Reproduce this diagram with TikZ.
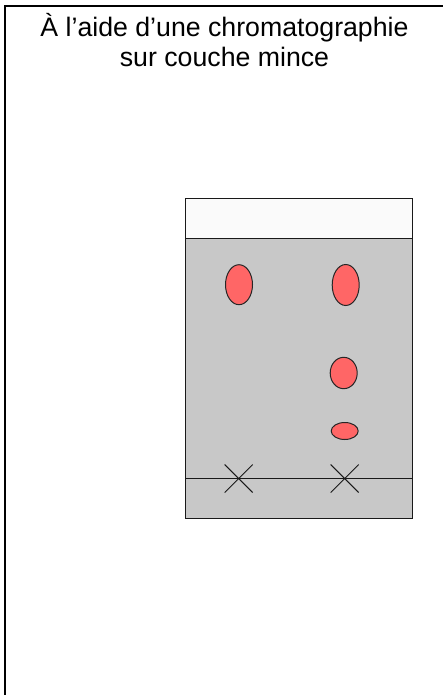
\documentclass[tikz,border=0pt]{standalone}
\usepackage{fontspec}
\setmainfont{Liberation Sans}
\usetikzlibrary{calc,shapes.geometric}
\definecolor{platefill}{HTML}{C8C8C8}
\definecolor{frontfill}{HTML}{FAFAFA}
\definecolor{spotfill}{HTML}{FF6666}
\tikzset{
    spot/.style={draw=black!85, fill=spotfill, line width=1pt},
    plateline/.style={draw=black!90, line width=1pt}
}

\begin{document}
\begin{tikzpicture}[x=1pt, y=-1pt]

% Page size
\useasboundingbox (0,0) rectangle (443,695);

% Parameters (for clarity)
\def\xL{185.5}    % plate left
\def\xR{412.5}    % plate right
\def\yT{198.5}    % plate top
\def\yB{518.5}    % plate bottom
\def\yF{238.5}    % solvent front
\def\yD{478.5}    % deposit line

% Frame (top and left only)
\draw[line width=2.2pt] (5,695) -- (5,6) -- (443,6);

% Title
\node[align=center, font=\fontsize{26.7}{30}\selectfont, anchor=base] (title) at (224.5,66.5)
    {À l’aide d’une chromatographie\\sur couche mince};

% Plate
\fill[frontfill] (\xL,\yT) rectangle (\xR,\yF);
\fill[platefill] (\xL,\yF) rectangle (\xR,\yB);
\draw[plateline] (\xL,\yT) rectangle (\xR,\yB);
\draw[plateline] (\xL,\yF) -- (\xR,\yF);
\draw[plateline] (\xL,\yD) -- (\xR,\yD);

% Deposit crosses
\foreach \x in {238.7,344.7}
{
    \draw[plateline] (\x-14,\yD-14) -- (\x+14,\yD+14);
    \draw[plateline] (\x-14,\yD+14) -- (\x+14,\yD-14);
}

% Spots
\draw[spot] (239,284.7) ellipse (13.5 and 20);
\draw[spot] (345.7,285) ellipse (13.5 and 20.5);
\draw[spot] (343.7,373) ellipse (13.5 and 15.7);
\draw[spot] (344.7,431) ellipse (13.5 and 8.5);

\end{tikzpicture}
\end{document}
